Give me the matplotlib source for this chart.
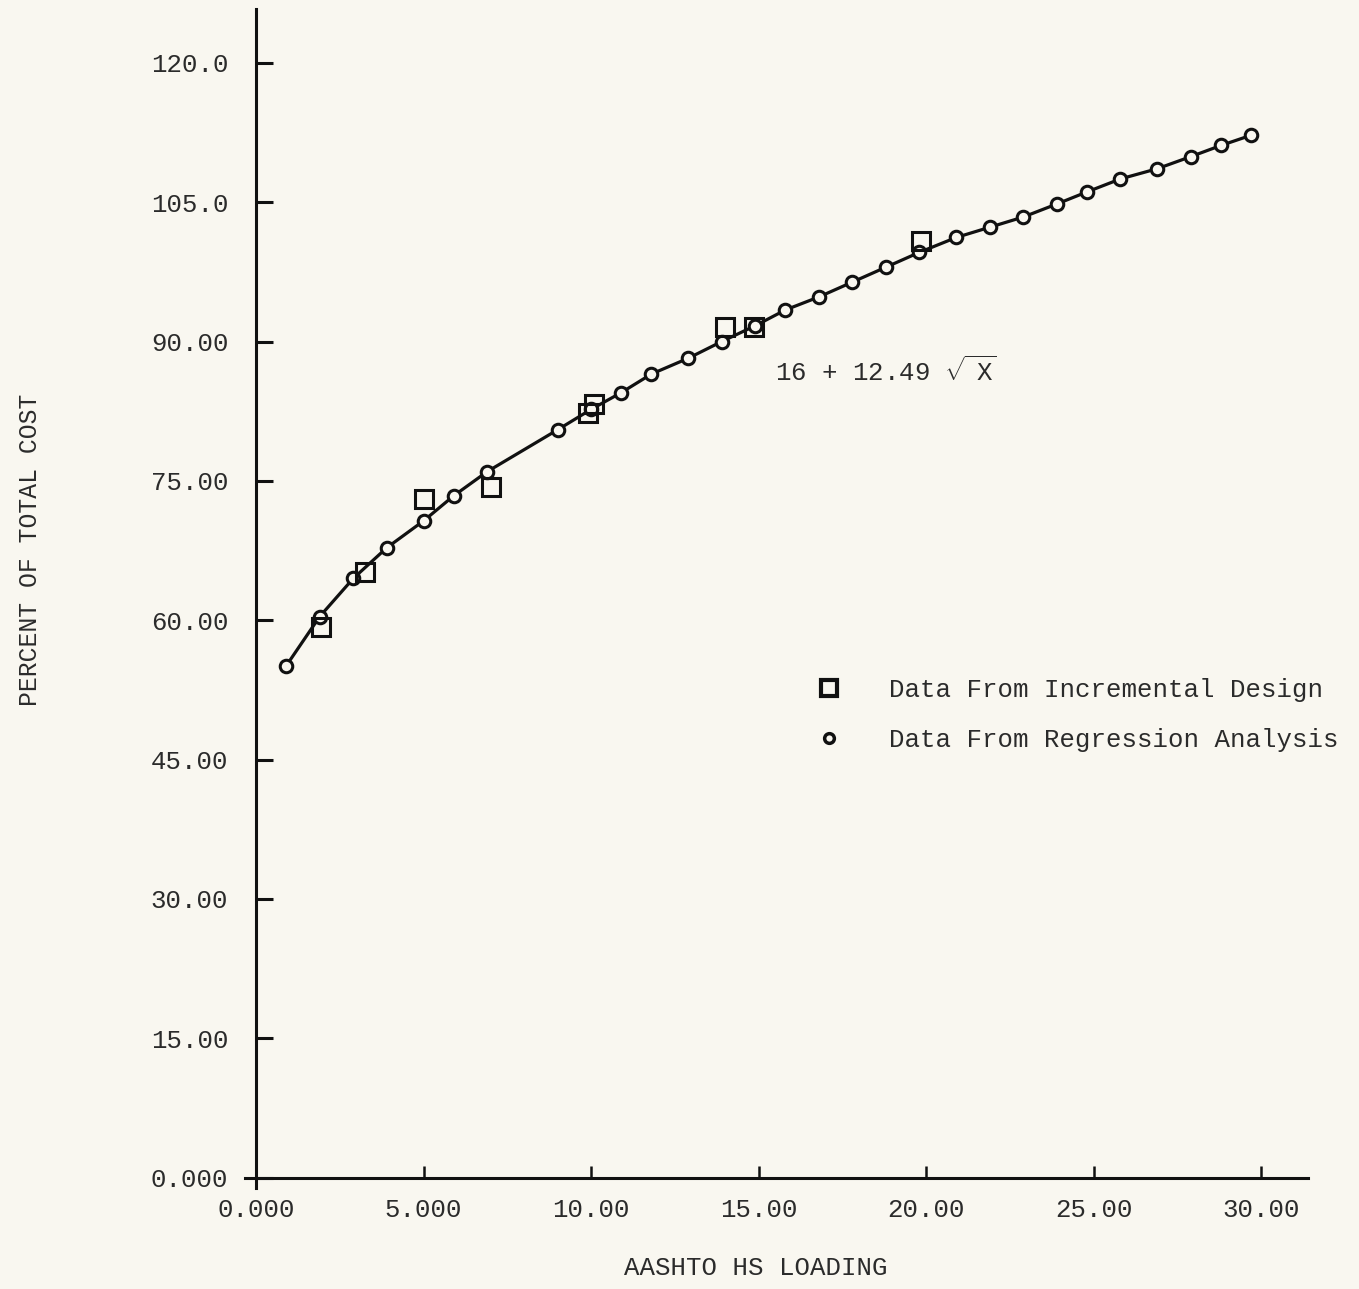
import matplotlib.pyplot as plt
from matplotlib.lines import Line2D

plt.rcParams['font.family'] = ['Liberation Mono', 'DejaVu Sans Mono']
plt.rcParams['mathtext.fontset'] = 'custom'
plt.rcParams['mathtext.rm'] = 'Liberation Mono'

# Regression analysis points
reg_x = [0.9, 1.9, 2.9, 3.9, 5.0, 5.9, 6.9, 9.0, 10.0, 10.9, 11.8, 12.9, 13.9, 14.9,
         15.8, 16.8, 17.8, 18.8, 19.8, 20.9, 21.9, 22.9, 23.9, 24.8, 25.8, 26.9,
         27.9, 28.8, 29.7]
reg_y = [55.1, 60.4, 64.5, 67.8, 70.7, 73.4, 76.0, 80.5, 82.7, 84.5, 86.5, 88.2, 90.0, 91.7,
         93.4, 94.8, 96.4, 98.0, 99.6, 101.2, 102.3, 103.4, 104.8, 106.1, 107.5, 108.6,
         109.9, 111.1, 112.2]

# Incremental design points
inc_x = [1.95, 3.25, 5.0, 7.0, 9.9, 10.1, 14.0, 14.85, 19.85]
inc_y = [59.3, 65.2, 73.1, 74.3, 82.3, 83.3, 91.6, 91.6, 100.8]

x_ticks = [0, 5, 10, 15, 20, 25, 30]
x_labels = ["0.000", "5.000", "10.00", "15.00", "20.00", "25.00", "30.00"]
y_ticks = [0, 15, 30, 45, 60, 75, 90, 105, 120]
y_labels = ["0.000", "15.00", "30.00", "45.00", "60.00", "75.00", "90.00", "105.0", "120.0"]

bg = '#f9f7f0'
ink = '#111111'
txt = '#2b2b2b'

fig = plt.figure(figsize=(13.59, 12.89), dpi=100, facecolor=bg)
ax = fig.add_axes([0.1803, 0.0784, 0.7822, 0.9147])
ax.set_facecolor(bg)

# fitted curve with regression points
ax.plot(reg_x, reg_y, color=ink, lw=2.3, marker='o', ms=9, mfc=bg, mec=ink, mew=2.2,
        zorder=3)
ax.plot(inc_x, inc_y, linestyle='none', marker='s', ms=13, mfc='none', mec=ink, mew=2.2,
        zorder=4)

ax.set_xlim(-0.33, 31.4)
ax.set_ylim(-1.1, 125.8)

for s in ['top', 'right']:
    ax.spines[s].set_visible(False)
ax.spines['left'].set_position(('data', 0))
ax.spines['bottom'].set_position(('data', 0))
for s in ['left', 'bottom']:
    ax.spines[s].set_linewidth(2.2)
    ax.spines[s].set_color(ink)

ax.set_xticks(x_ticks)
ax.set_xticklabels(x_labels)
ax.set_yticks(y_ticks)
ax.set_yticklabels(y_labels)
ax.tick_params(axis='y', direction='in', length=12, width=2.2, pad=20,
               labelsize=18.5, labelcolor=txt, color=ink)
ax.tick_params(axis='x', direction='in', length=9, width=1.8, pad=14.5,
               labelsize=18.5, labelcolor=txt, color=ink)

# equation label
ax.text(15.5, 86.8, r"16 + 12.49 $\sqrt{\ \mathrm{X}}$", fontsize=18.5, color=txt,
        ha='left', va='center')

# legend
handles = [
    Line2D([], [], linestyle='none', marker='s', ms=11, mfc='none', mec=ink, mew=3),
    Line2D([], [], linestyle='none', marker='o', ms=7, mfc='none', mec=ink, mew=2.5),
]
ax.legend(handles, ["Data From Incremental Design", "Data From Regression Analysis"],
          loc='center left', bbox_to_anchor=(0.5908, 0.4453),
          bbox_transform=fig.transFigure, frameon=False, fontsize=18.5,
          handlelength=1.0, handletextpad=1.85, labelspacing=0.98, borderpad=0,
          labelcolor=txt)

fig.text(30 / 1359, 1 - 550 / 1289, "PERCENT OF TOTAL COST", rotation=90,
         ha='center', va='center', fontsize=17.8, color=txt)
fig.text(756 / 1359, 1 - 1268 / 1289, "AASHTO HS LOADING", ha='center', va='center',
         fontsize=18.5, color=txt)

fig.savefig('out.png', dpi=100, facecolor=bg)
